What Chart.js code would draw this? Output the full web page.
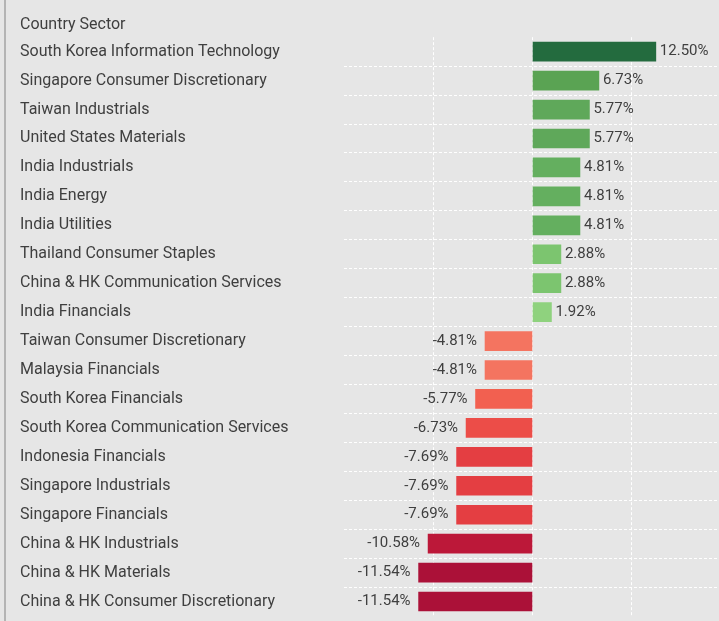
<!DOCTYPE html>
<html>
<head>
<meta charset="utf-8">
<script src="https://cdn.jsdelivr.net/npm/chart.js@4"></script>
<style>
  html, body { margin: 0; padding: 0; background: #e6e6e6; }
  #wrap { position: relative; width: 719px; height: 621px; }
  #edge { position: absolute; left: 4px; top: 0; width: 2px; height: 621px; background: #b4b4b4; }
</style>
</head>
<body>
<div id="wrap">
  <div id="edge"></div>
  <canvas id="sectorChart" width="719" height="621"></canvas>
</div>
<script>
// country/sector rows, top to bottom
const sectors = [
  'South Korea Information Technology',
  'Singapore Consumer Discretionary',
  'Taiwan Industrials',
  'United States Materials',
  'India Industrials',
  'India Energy',
  'India Utilities',
  'Thailand Consumer Staples',
  'China & HK Communication Services',
  'India Financials',
  'Taiwan Consumer Discretionary',
  'Malaysia Financials',
  'South Korea Financials',
  'South Korea Communication Services',
  'Indonesia Financials',
  'Singapore Industrials',
  'Singapore Financials',
  'China & HK Industrials',
  'China & HK Materials',
  'China & HK Consumer Discretionary'
];

// percentage values for each row
const weights = [12.50, 6.73, 5.77, 5.77, 4.81, 4.81, 4.81, 2.88, 2.88, 1.92,
  -4.81, -4.81, -5.77, -6.73, -7.69, -7.69, -7.69, -10.58, -11.54, -11.54];

// fill per bar (darker = stronger)
const barColors = [
  '#236b3e', '#5aa353', '#5fa85a', '#5fa85a', '#64af5f', '#64af5f', '#64af5f',
  '#7cc56f', '#7cc56f', '#8fd27e',
  '#f47460', '#f47460', '#f26050', '#ec4d48', '#e43e42', '#e43e42', '#e43e42',
  '#bc1839', '#ab1138', '#ab1138'
];

const gridTicks = [-10, 0, 10];
const labelFont = { family: 'Roboto', size: 16 };
const valueFont = { family: 'Roboto', size: 15 };
const textColor = '#3f3f3f';

// writes "x.xx%" beside each bar end
const valueLabels = {
  id: 'valueLabels',
  afterDatasetsDraw(chart) {
    const ctx = chart.ctx;
    const meta = chart.getDatasetMeta(0);
    ctx.save();
    ctx.font = `${valueFont.size}px ${valueFont.family}`;
    ctx.fillStyle = textColor;
    ctx.textBaseline = 'middle';
    meta.data.forEach((bar, i) => {
      const v = weights[i];
      const txt = v.toFixed(2) + '%';
      if (v >= 0) {
        ctx.textAlign = 'left';
        ctx.fillText(txt, bar.x + 4, bar.y);
      } else {
        ctx.textAlign = 'right';
        ctx.fillText(txt, bar.x - 8, bar.y);
      }
    });
    ctx.restore();
  }
};

const ctx = document.getElementById('sectorChart').getContext('2d');
new Chart(ctx, {
  type: 'bar',
  data: {
    labels: sectors,
    datasets: [{
      data: weights,
      backgroundColor: barColors,
      borderWidth: 0,
      barThickness: 19
    }]
  },
  plugins: [valueLabels],
  options: {
    indexAxis: 'y',
    responsive: false,
    animation: false,
    layout: { padding: { left: 20, top: 6, right: 0, bottom: 5 } },
    plugins: {
      legend: { display: false },
      tooltip: { enabled: false },
      title: {
        display: true,
        text: 'Country Sector',
        align: 'start',
        color: textColor,
        font: { family: labelFont.family, size: labelFont.size, weight: 'normal' },
        padding: { top: 9, bottom: 3 }
      }
    },
    scales: {
      x: {
        min: -19.1,
        max: 18.9,
        afterBuildTicks: (scale) => { scale.ticks = gridTicks.map(v => ({ value: v })); },
        ticks: { display: false },
        // dashed white verticals at -10, 0, 10
        border: { display: false, dash: [3, 2] },
        grid: { color: '#ffffff', lineWidth: 1, drawTicks: false },
        afterFit: (scale) => { scale.height = 0; }
      },
      y: {
        border: { display: false, dash: [3, 2] },
        grid: {
          drawTicks: false,
          // only the lines between rows
          color: (c) => (c.index > 0 ? '#ffffff' : 'rgba(0,0,0,0)'),
          lineWidth: 1
        },
        ticks: {
          crossAlign: 'far',
          color: textColor,
          font: labelFont,
          padding: 0
        },
        // fixed label column, no extra room kept for half a label at the ends
        afterFit: (scale) => {
          scale.width = 324;
          scale.paddingTop = 0;
          scale.paddingBottom = 0;
        }
      }
    }
  }
});
</script>
</body>
</html>
